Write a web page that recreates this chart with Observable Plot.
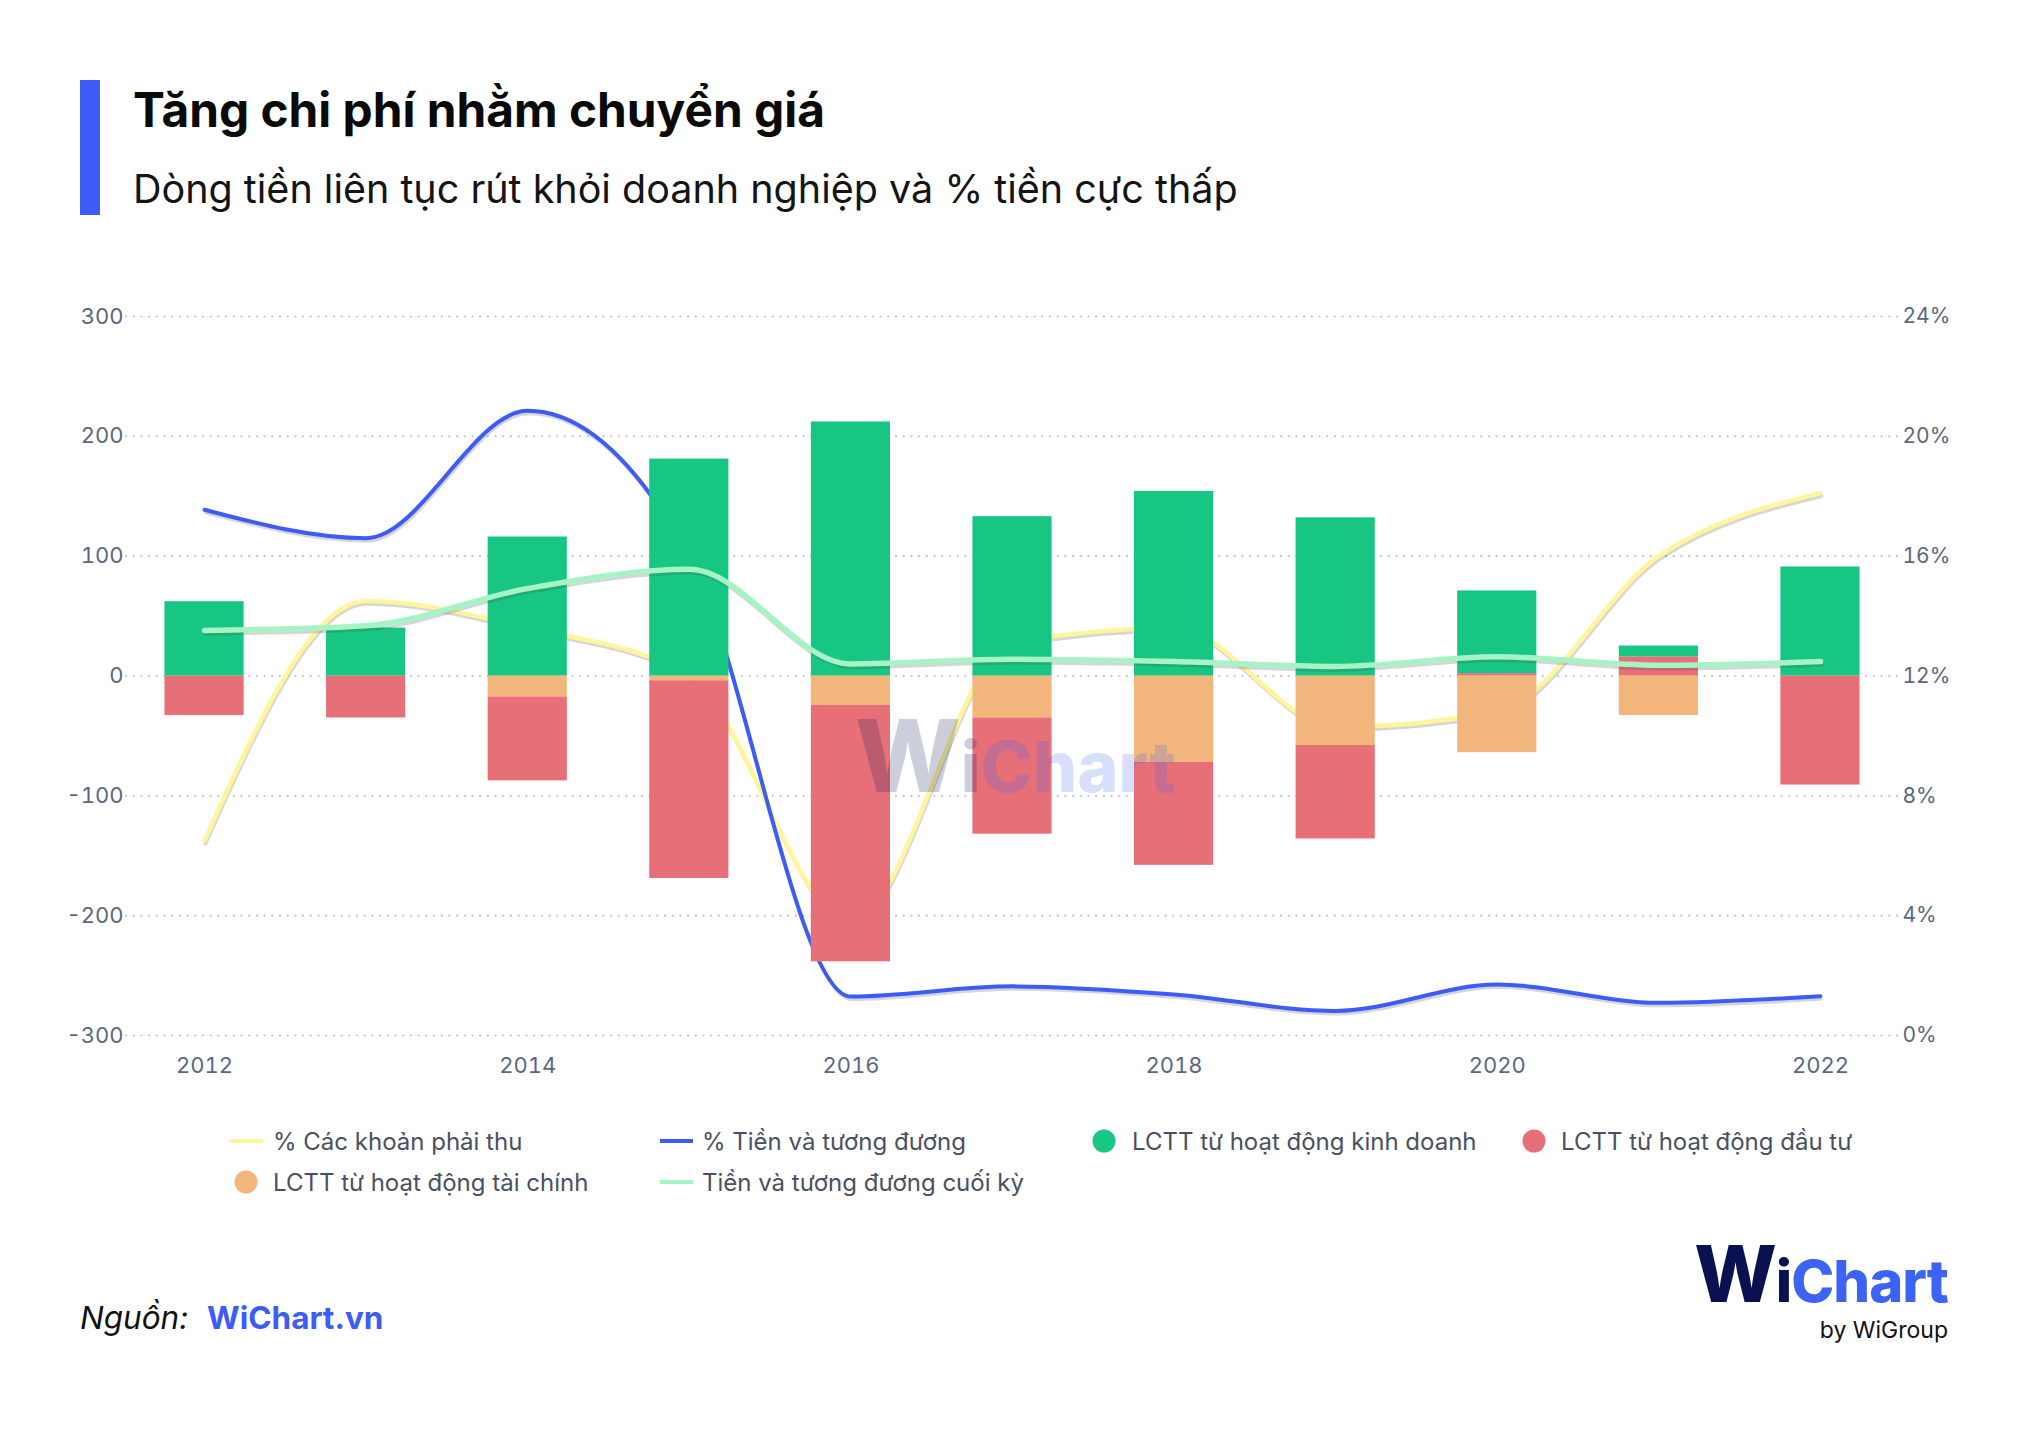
<!DOCTYPE html>
<html><head><meta charset="utf-8">
<script src="https://cdn.jsdelivr.net/npm/d3@7"></script>
<script src="https://cdn.jsdelivr.net/npm/@observablehq/plot@0.6"></script>
<style>
html,body{margin:0;padding:0;background:#fff;}
#root{position:relative;width:2028px;height:1434px;overflow:hidden;background:#fff;font-family:Inter,"Noto Sans",sans-serif;}
#chart{position:absolute;left:0;top:0;}
#overlay{position:absolute;left:0;top:0;pointer-events:none;}
</style></head>
<body><div id="root"><div id="chart"></div><svg id="overlay" width="2028" height="1434" xmlns="http://www.w3.org/2000/svg"></svg></div>
<script>
// ---- data ----
const years = [2012, 2013, 2014, 2015, 2016, 2017, 2018, 2019, 2020, 2021, 2022];
const cfOperating = [62, 40, 116, 181, 212, 133, 154, 132, 69, 9, 91];
const cfInvesting = [-33, -35, -70, -165, -214, -97, -86, -78, 2, 16, -91];
const cfFinancing = [0, 0, -17.5, -4, -24.5, -35, -72, -58, -64, -33, 0];
const pctReceivables = [6.5, 14.5, 13.6, 12.0, 3.8, 13.1, 13.6, 10.3, 10.8, 16.0, 18.1];
const pctCash = [17.55, 16.6, 20.85, 16.0, 1.3, 1.64, 1.37, 0.82, 1.7, 1.09, 1.31];
const cashEnd = [38, 42, 73, 89, 10, 14, 12, 8, 16, 9, 12];

const xTicks = [2012, 2014, 2016, 2018, 2020, 2022];
const yTicks = [-300, -200, -100, 0, 100, 200, 300];
const pctTicks = [0, 4, 8, 12, 16, 20, 24];

const nameRecv = "% Các khoản phải thu";
const nameCashPct = "% Tiền và tương đương";
const nameCFO = "LCTT từ hoạt động kinh doanh";
const nameCFI = "LCTT từ hoạt động đầu tư";
const nameCFF = "LCTT từ hoạt động tài chính";
const nameCashEnd = "Tiền và tương đương cuối kỳ";

// ---- styling ----
const C = {
  cfo: "#18C684", cfi: "#E76F78", cff: "#F2B57C",
  recv: "#FFF59A", cashPct: "#3D5BF6", cashEnd: "#A6F4C6",
  grid: "#b9c3d3", tick: "#5b6781"
};

// secondary (%) axis maps 0..24% onto -300..300
const pctToY = p => (p / 24) * 600 - 300;
const yToPct = v => (v + 300) / 600 * 24;

const barRows = years.flatMap((year, i) => [
  {year, series: nameCFF, value: cfFinancing[i]},
  {year, series: nameCFI, value: cfInvesting[i]},
  {year, series: nameCFO, value: cfOperating[i]}
]);
const lineRows = years.map((year, i) => ({
  year, recv: pctReceivables[i], cashPct: pctCash[i], cashEnd: cashEnd[i]
}));

const stacked = Plot.stackY(
  {order: [nameCFF, nameCFI, nameCFO]},
  {x: "year", y: "value", z: "series", fill: "series"}
);
const {x: _groupX, ...stackedRest} = stacked;
const halfBar = 0.245;

function smoothLine(yfn, color, width) {
  return [
    Plot.line(lineRows, {x: "year", y: yfn, curve: "monotone-x", stroke: "#444", strokeOpacity: 0.22, strokeWidth: width - 1, dx: 1, dy: 3}),
    Plot.line(lineRows, {x: "year", y: yfn, curve: "monotone-x", stroke: color, strokeWidth: width})
  ];
}

const chart = Plot.plot({
  width: 2028, height: 1100,
  marginTop: 316, marginBottom: 65, marginLeft: 126, marginRight: 130,
  x: {domain: [2011.517, 2022.483]},
  y: {domain: [-300, 300]},
  color: {domain: [nameCFO, nameCFI, nameCFF], range: [C.cfo, C.cfi, C.cff]},
  style: {fontFamily: "Inter, 'Noto Sans', sans-serif", fontSize: "22px", color: C.tick, background: "transparent"},
  marks: [
    Plot.gridY(yTicks, {stroke: C.grid, strokeOpacity: 1, strokeWidth: 2.2, strokeDasharray: "0,7.7", strokeLinecap: "round"}),
    ...smoothLine(d => pctToY(d.recv), C.recv, 4.5),
    ...smoothLine(d => pctToY(d.cashPct), C.cashPct, 4),
    Plot.rect(barRows, {...stackedRest, x1: d => d.year - halfBar, x2: d => d.year + halfBar}),
    ...smoothLine("cashEnd", C.cashEnd, 5.5),
    Plot.axisY(yTicks, {anchor: "left", tickSize: 0, tickPadding: 3, tickFormat: d => String(d), label: null, fontSize: 22}),
    Plot.axisY(pctTicks.map(pctToY), {anchor: "right", tickSize: 0, tickPadding: 4, tickFormat: d => Math.round(yToPct(d)) + "%", label: null, fontSize: 21}),
    Plot.axisX(xTicks, {tickSize: 0, tickPadding: 22, tickFormat: d => String(d), label: null, fontSize: 22})
  ]
});
document.getElementById("chart").appendChild(chart);

// ---- overlay: title, legend, footer, logos ----
const legendItems = [
  {label: nameRecv, kind: "line", color: C.recv, sx: 230, tx: 273, cy: 1141},
  {label: nameCashPct, kind: "line", color: C.cashPct, sx: 660, tx: 702, cy: 1141},
  {label: nameCFO, kind: "dot", color: C.cfo, sx: 1104, tx: 1132, cy: 1141},
  {label: nameCFI, kind: "dot", color: C.cfi, sx: 1534, tx: 1561, cy: 1141},
  {label: nameCFF, kind: "dot", color: C.cff, sx: 246, tx: 273, cy: 1182},
  {label: nameCashEnd, kind: "line", color: C.cashEnd, sx: 660, tx: 702, cy: 1182}
];
const F = "Inter, 'Noto Sans', sans-serif";
let s = "";
s += `<rect x="80" y="80" width="20" height="135" fill="#3D5BF6"/>`;
s += `<text x="133" y="127" font-family="${F}" font-size="47.8" font-weight="700" fill="#0a0a0a">Tăng chi phí nhằm chuyển giá</text>`;
s += `<text x="133" y="203" font-family="${F}" font-size="39.5" font-weight="400" fill="#141414">Dòng tiền liên tục rút khỏi doanh nghiệp và % tiền cực thấp</text>`;
for (const it of legendItems) {
  if (it.kind === "line") s += `<rect x="${it.sx}" y="${it.cy - 2}" width="33" height="4" fill="${it.color}"/>`;
  else s += `<circle cx="${it.sx}" cy="${it.cy}" r="11.5" fill="${it.color}"/>`;
  s += `<text x="${it.tx}" y="${it.cy + 8.5}" font-family="${F}" font-size="24" fill="#4a5060">${it.label}</text>`;
}
// watermark
s += `<text x="855" y="792" font-family="${F}" font-size="70" font-weight="800" opacity="0.2"><tspan fill="#0B1150" font-size="100">W</tspan><tspan fill="#0B1150">i</tspan><tspan fill="#3D63F5">Chart</tspan></text>`;
// footer
s += `<text x="80" y="1329" font-family="${F}" font-size="31.5" font-style="italic" fill="#111">Nguồn:</text>`;
s += `<text x="207" y="1329" font-family="${F}" font-size="31.5" font-weight="700" fill="#3D5BF6">WiChart.vn</text>`;
// logo
s += `<text x="1948" y="1302" text-anchor="end" font-family="${F}" font-size="58" font-weight="800" letter-spacing="-1"><tspan fill="#0B1150" font-size="78">W</tspan><tspan fill="#0B1150">i</tspan><tspan fill="#3D63F5">Chart</tspan></text>`;
s += `<text x="1948" y="1338" text-anchor="end" font-family="${F}" font-size="23" fill="#111">by WiGroup</text>`;
document.getElementById("overlay").innerHTML = s;
</script></body></html>
